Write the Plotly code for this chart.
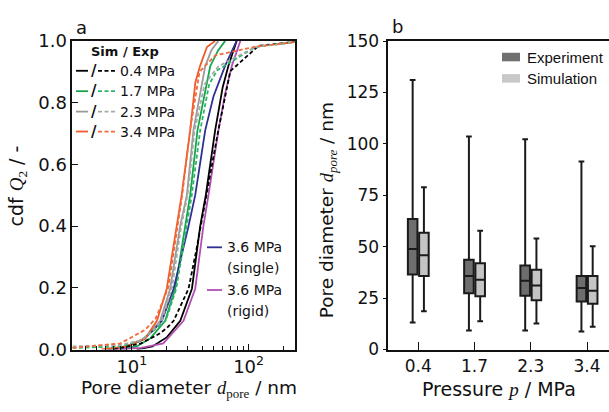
import plotly.graph_objects as go

W, H = 609, 412

# ---------------- Panel a: cumulative pore size distributions ----------------
# pore diameter d (nm) and cdf Q2 (-)
sim_04_d = [11, 15, 20, 26, 32.7, 38.5, 43, 51.7, 60, 67.3, 79]
sim_04_q = [0, 0.01, 0.04, 0.093, 0.197, 0.40, 0.50, 0.71, 0.85, 0.92, 1.0]
exp_04_d = [7, 12, 17, 20, 22.8, 30.6, 36, 43.7, 55, 69.7, 121.6, 300]
exp_04_q = [0, 0.02, 0.05, 0.07, 0.093, 0.197, 0.33, 0.50, 0.71, 0.902, 0.984, 1.0]

sim_17_d = [8, 11, 14.4, 19.3, 23.5, 28.6, 31.6, 36.5, 46.9, 55, 63]
sim_17_q = [0, 0.01, 0.036, 0.093, 0.197, 0.40, 0.50, 0.71, 0.918, 0.97, 1.0]
exp_17_d = [3.1, 8, 12, 15, 19.5, 24, 29.5, 32.6, 38.5, 46, 54, 114, 300]
exp_17_q = [0.005, 0.01, 0.03, 0.06, 0.093, 0.197, 0.40, 0.50, 0.71, 0.86, 0.905, 0.98, 1.0]

sim_23_d = [6, 9, 13, 17.5, 21.3, 25.9, 29.6, 33.7, 42.5, 48, 55]
sim_23_q = [0, 0.01, 0.035, 0.093, 0.197, 0.40, 0.50, 0.71, 0.918, 0.97, 1.0]
exp_23_d = [3.1, 8, 12, 15, 18, 22, 26.5, 30, 34.5, 42, 55.2, 114, 300]
exp_23_q = [0.01, 0.015, 0.03, 0.06, 0.093, 0.197, 0.40, 0.50, 0.71, 0.86, 0.918, 0.98, 1.0]

sim_34_d = [5.5, 9, 13, 16.4, 19.9, 24, 26.7, 31.6, 35, 38.5, 44, 51.7]
sim_34_q = [0, 0.01, 0.036, 0.093, 0.197, 0.40, 0.50, 0.71, 0.866, 0.92, 0.98, 1.0]
exp_34_d = [3.1, 8, 13, 16, 20.5, 24.5, 27, 31.5, 38, 51.8, 114, 300]
exp_34_q = [0.005, 0.02, 0.064, 0.10, 0.20, 0.40, 0.50, 0.71, 0.90, 0.953, 0.981, 1.0]

single_36_d = [6.3, 9, 12.2, 15, 18.1, 22.8, 30.6, 34.9, 42.5, 50, 63, 79]
single_36_q = [0, 0.01, 0.03, 0.06, 0.093, 0.197, 0.40, 0.50, 0.71, 0.82, 0.92, 1.0]
rigid_36_d = [7.4, 12, 18.6, 22, 27.7, 34.9, 41, 45.3, 55.2, 63, 72, 85]
rigid_36_q = [0, 0.005, 0.02, 0.05, 0.093, 0.197, 0.40, 0.50, 0.71, 0.83, 0.92, 1.0]

pressure_labels_a = ["0.4 MPa", "1.7 MPa", "2.3 MPa", "3.4 MPa"]

# ---------------- Panel b: box plots of pore diameter ----------------
pressures = ["0.4", "1.7", "2.3", "3.4"]
exp_low = [13.1, 9.2, 9.2, 8.8]
exp_q1 = [36.5, 27.4, 26.2, 23.4]
exp_med = [48.9, 35.7, 33.5, 29.9]
exp_q3 = [63.5, 43.7, 40.9, 35.7]
exp_high = [131.1, 103.6, 102.3, 91.4]
sim_low = [18.6, 13.7, 12.6, 11.1]
sim_q1 = [35.7, 25.9, 23.9, 22.2]
sim_med = [45.9, 33.9, 31.1, 28.6]
sim_q3 = [56.8, 41.9, 38.8, 35.7]
sim_high = [78.9, 57.7, 54.0, 50.2]

# ---------------- styling ----------------
SANS = "DejaVu Sans"
ARIAL = "Liberation Sans"
AX = "#111111"
C_BLACK = "#000000"
C_GREEN = "#16a44c"
C_GREEN_D = "#2db66a"
C_GRAY = "#9a9a9a"
C_GRAY_D = "#a3aba6"
C_ORANGE = "#f15a29"
C_ORANGE_D = "#f26a3a"
C_BLUE = "#2e3192"
C_MAG = "#b04fb0"
LW = 1.8
DASH = "4px,2.5px"


def px(x):
    return x / W


def py(y):
    return 1 - y / H


fig = go.Figure()

series = [
    (sim_04_d, sim_04_q, C_BLACK, "solid"),
    (sim_17_d, sim_17_q, C_GREEN, "solid"),
    (sim_23_d, sim_23_q, C_GRAY, "solid"),
    (single_36_d, single_36_q, C_BLUE, "solid"),
    (rigid_36_d, rigid_36_q, C_MAG, "solid"),
    (sim_34_d, sim_34_q, C_ORANGE, "solid"),
    (exp_04_d, exp_04_q, C_BLACK, DASH),
    (exp_17_d, exp_17_q, C_GREEN_D, DASH),
    (exp_23_d, exp_23_q, C_GRAY_D, DASH),
    (exp_34_d, exp_34_q, C_ORANGE_D, DASH),
]
for d, q, c, dash in series:
    fig.add_trace(go.Scatter(x=d, y=q, mode="lines", xaxis="x", yaxis="y",
                             line=dict(color=c, width=LW, dash=dash),
                             showlegend=False, hoverinfo="skip"))

fig.add_trace(go.Box(x=pressures, q1=exp_q1, median=exp_med, q3=exp_q3,
                     lowerfence=exp_low, upperfence=exp_high,
                     xaxis="x2", yaxis="y2", name="Experiment",
                     fillcolor="#6e6e6e", line=dict(color="#1a1a1a", width=2),
                     whiskerwidth=0.6, boxpoints=False, showlegend=False))
fig.add_trace(go.Box(x=pressures, q1=sim_q1, median=sim_med, q3=sim_q3,
                     lowerfence=sim_low, upperfence=sim_high,
                     xaxis="x2", yaxis="y2", name="Simulation",
                     fillcolor="#c4c4c4", line=dict(color="#1a1a1a", width=2),
                     whiskerwidth=0.6, boxpoints=False, showlegend=False))

tickfont_a = dict(family=SANS, size=18, color="#111")
tickfont_b = dict(family=SANS, size=17, color="#111")

minor_vals = [4, 5, 6, 7, 8, 9, 20, 30, 40, 50, 60, 70, 80, 90, 200]

fig.update_layout(
    width=W, height=H, autosize=False,
    margin=dict(l=0, r=0, t=0, b=0, pad=0),
    paper_bgcolor="white", plot_bgcolor="white",
    font=dict(family=SANS, color="#111"),
    boxmode="group", boxgap=0.6, boxgroupgap=0.15,
    xaxis=dict(type="log", range=[0.49, 2.40], domain=[px(72.3), px(295.3)],
               anchor="y", showline=True, linecolor=AX, linewidth=1.5, mirror=True,
               ticks="inside", ticklen=6, tickwidth=1.3, tickcolor=AX,
               tickvals=[10, 100], ticktext=["10<sup>1</sup>", "10<sup>2</sup>"],
               tickfont=tickfont_a, showgrid=False, zeroline=False,
               minor=dict(tickvals=minor_vals, ticks="inside", ticklen=3.5,
                          tickwidth=1, tickcolor=AX, showgrid=False)),
    yaxis=dict(range=[0, 1], domain=[1 - 356.7 / H, 1 - 31.5 / H], anchor="x",
               showline=True, linecolor=AX, linewidth=1.5, mirror=True,
               ticks="inside", ticklen=6, tickwidth=1.3, tickcolor=AX,
               dtick=0.2, tickformat=".1f", tickfont=tickfont_a,
               showgrid=False, zeroline=False),
    xaxis2=dict(type="category", categoryorder="array", categoryarray=pressures,
                range=[-0.533, 3.39], domain=[px(388.3), 1.0], anchor="y2",
                showline=True, linecolor=AX, linewidth=1.5, mirror=True,
                ticks="inside", ticklen=8, tickwidth=1.3, tickcolor=AX,
                tickfont=tickfont_b, showgrid=False, zeroline=False),
    yaxis2=dict(range=[0, 150], domain=[1 - 356.7 / H, 1 - 31.7 / H], anchor="x2",
                showline=True, linecolor=AX, linewidth=1.5, mirror=False,
                ticks="outside", ticklen=4, tickwidth=1.3, tickcolor=AX,
                dtick=25, tickfont=tickfont_b, showgrid=False, zeroline=False),
)

ann = []
shapes = []


def text(x, y, s, size=14, xanchor="left", bold=False, angle=0, family=SANS):
    ann.append(dict(x=px(x), y=py(y), xref="paper", yref="paper", text=s,
                    showarrow=False, xanchor=xanchor, yanchor="middle",
                    textangle=angle,
                    font=dict(family=family, size=size, color="#111",
                              weight="bold" if bold else "normal")))


# panel labels
text(81, 17, "a", size=18, xanchor="center")
text(397, 16, "b", size=18, xanchor="center")

# axis titles
text(189, 398, 'Pore diameter <span style="font-family:Liberation Serif"><i>d</i><sub>pore</sub></span> / nm',
     size=18.5, xanchor="center")
text(18, 185, 'cdf <span style="font-family:Liberation Serif"><i>Q</i><sub>2</sub></span> / -',
     size=19, xanchor="center", angle=-90)
text(499, 398, 'Pressure <span style="font-family:Liberation Serif"><i>p</i></span> / MPa',
     size=19, xanchor="center")
text(328, 210, 'Pore diameter <span style="font-family:Liberation Serif"><i>d<sub>pore</sub></i></span> / nm',
     size=18.5, xanchor="center", angle=-90)

# panel a legend
text(125, 42.5, "Sim / Exp", size=13, xanchor="center", bold=True)
rows_y = [63, 84.5, 106, 127]
sim_cols = [C_BLACK, C_GREEN, C_GRAY, C_ORANGE]
exp_cols = [C_BLACK, C_GREEN_D, C_GRAY_D, C_ORANGE_D]
for yy, cs, ce, lab in zip(rows_y, sim_cols, exp_cols, pressure_labels_a):
    shapes.append(dict(type="line", xref="paper", yref="paper",
                       x0=px(76), x1=px(88), y0=py(yy), y1=py(yy),
                       line=dict(color=cs, width=LW)))
    shapes.append(dict(type="line", xref="paper", yref="paper",
                       x0=px(98), x1=px(115), y0=py(yy), y1=py(yy),
                       line=dict(color=ce, width=LW, dash=DASH)))
    text(93.5, yy, "/", size=15, xanchor="center", bold=True)
    text(118, yy, lab, size=14)

# 3.6 MPa legend entries
for yy, c, l1, l2 in [(249, C_BLUE, "3.6 MPa", "(single)"), (294, C_MAG, "3.6 MPa", "(rigid)")]:
    shapes.append(dict(type="line", xref="paper", yref="paper",
                       x0=px(207), x1=px(222), y0=py(yy), y1=py(yy),
                       line=dict(color=c, width=LW)))
    text(225, yy, l1, size=14)
    text(225, yy + 22, l2, size=14)

# panel b legend
for yy, c, lab in [(48.5, "#707070", "Experiment"), (71, "#c8c8c8", "Simulation")]:
    shapes.append(dict(type="rect", xref="paper", yref="paper",
                       x0=px(502), x1=px(520), y0=py(yy - 4.5), y1=py(yy + 4.5),
                       fillcolor=c, line=dict(width=0)))
    text(525, yy, lab, size=15, family=ARIAL)

fig.update_layout(annotations=ann, shapes=shapes)
fig.write_html("out.html", config={"displayModeBar": False},
               post_script="document.body.style.margin='0';document.body.style.overflow='hidden';")
